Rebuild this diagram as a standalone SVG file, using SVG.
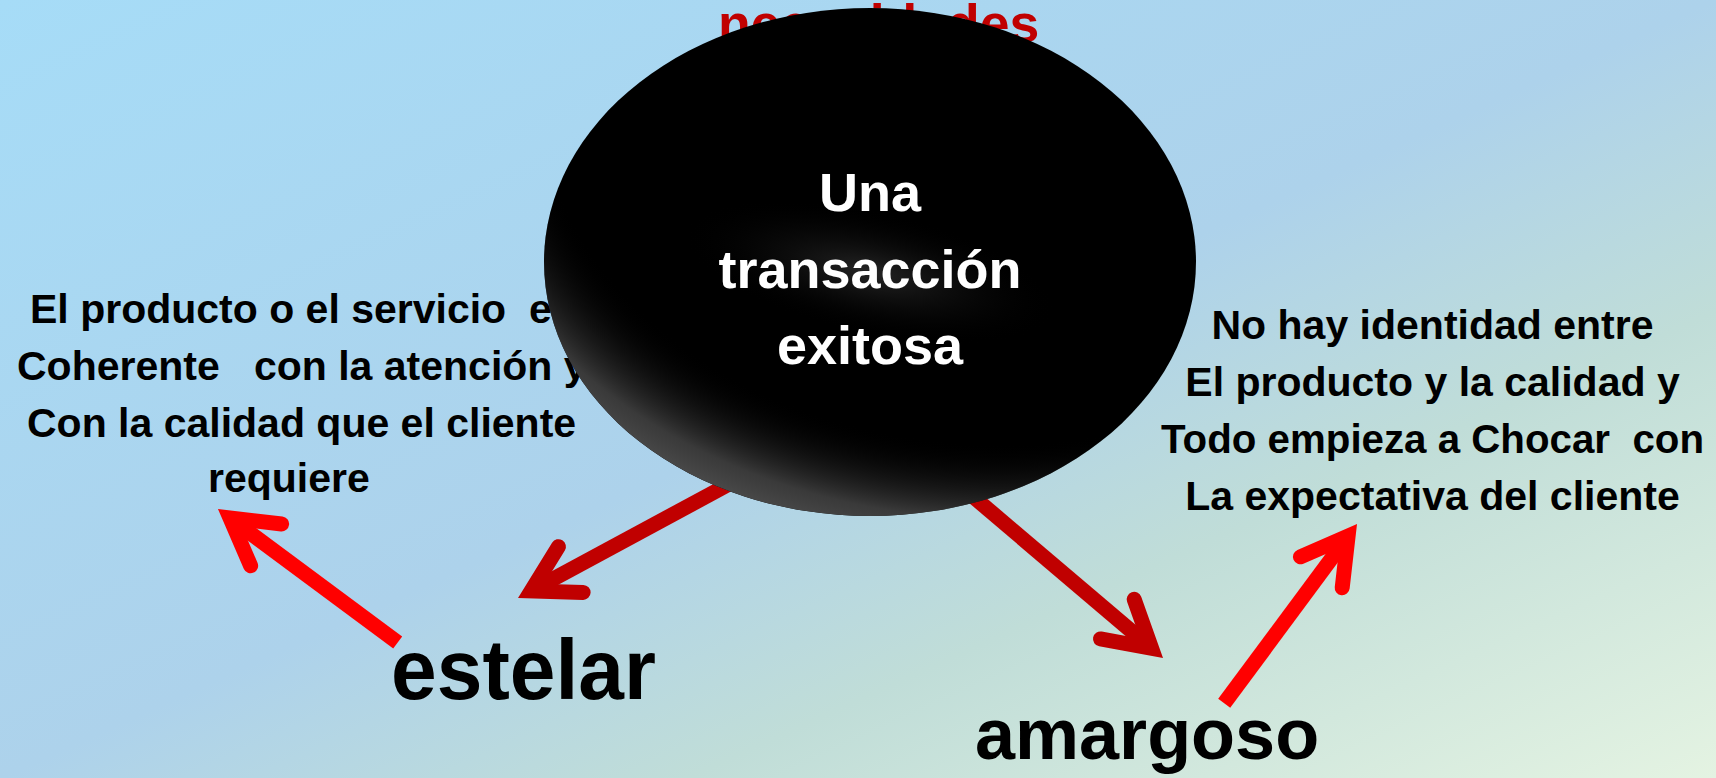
<svg xmlns="http://www.w3.org/2000/svg" width="1716" height="778" viewBox="0 0 1716 778">
  <style>
    .t { font-family: "Liberation Sans", Arial, sans-serif; font-weight: bold; white-space: pre; }
    .body { font-size: 41px; fill: #000000; }
    .inner { font-size: 54px; fill: #ffffff; text-anchor: middle; }
    .big { fill: #000000; }
    .dark { stroke: #C00000; stroke-width: 15; fill: none; stroke-linecap: butt; }
    .bright { stroke: #FF0000; stroke-width: 15; fill: none; stroke-linecap: butt; }
  </style>
  <defs>
    <linearGradient id="bg" x1="0" y1="0" x2="1" y2="1">
      <stop offset="0" stop-color="#A6DCF7"/>
      <stop offset="0.5" stop-color="#ADD2EB"/>
      <stop offset="0.7" stop-color="#C0DDD8"/>
      <stop offset="1" stop-color="#E4F3E2"/>
    </linearGradient>
    <radialGradient id="rim" cx="0.7" cy="0.15" r="0.93" fx="0.7" fy="0.15">
      <stop offset="0" stop-color="#000000" stop-opacity="0"/>
      <stop offset="0.76" stop-color="#000000" stop-opacity="0"/>
      <stop offset="0.92" stop-color="#444444" stop-opacity="0.85"/>
      <stop offset="0.97" stop-color="#484848" stop-opacity="1"/>
      <stop offset="1" stop-color="#303030" stop-opacity="1"/>
    </radialGradient>
    <radialGradient id="glow" cx="0.5" cy="0.5" r="0.5">
      <stop offset="0" stop-color="#444444" stop-opacity="1"/>
      <stop offset="1" stop-color="#000000" stop-opacity="0"/>
    </radialGradient>
    <clipPath id="ellClip">
      <ellipse cx="870" cy="262" rx="326" ry="254"/>
    </clipPath>
    <marker id="headDark" markerUnits="userSpaceOnUse" orient="auto" viewBox="-60 -40 80 80" markerWidth="80" markerHeight="80" refX="0" refY="0">
      <path d="M-45,-26 L0,0 L-45,26" fill="none" stroke="#C00000" stroke-width="15" stroke-linecap="round" stroke-linejoin="miter"/>
    </marker>
    <marker id="headBright" markerUnits="userSpaceOnUse" orient="auto" viewBox="-60 -40 80 80" markerWidth="80" markerHeight="80" refX="0" refY="0">
      <path d="M-45,-26 L0,0 L-45,26" fill="none" stroke="#FF0000" stroke-width="15" stroke-linecap="round" stroke-linejoin="miter"/>
    </marker>
  </defs>

  <rect id="background" x="0" y="0" width="1716" height="778" fill="url(#bg)"/>

  <g id="title-necesidades">
    <text class="t" x="718" y="42" font-size="53.5" fill="#C00000">necesidades</text>
  </g>

  <g id="node-left-text" class="t body">
    <text class="t body" x="30" y="323" xml:space="preserve">El producto o el servicio  es</text>
    <text class="t body" x="17" y="380" xml:space="preserve">Coherente   con la atención y</text>
    <text class="t body" x="27" y="437">Con la calidad que el cliente</text>
    <text class="t body" x="208" y="492">requiere</text>
  </g>

  <g id="node-right-text" class="t body" text-anchor="middle">
    <text class="t body" x="1432.5" y="339">No hay identidad entre</text>
    <text class="t body" x="1432.5" y="396">El producto y la calidad y</text>
    <text class="t body" x="1432.5" y="453" xml:space="preserve" textLength="543" lengthAdjust="spacingAndGlyphs">Todo empieza a Chocar  con</text>
    <text class="t body" x="1432.5" y="510">La expectativa del cliente</text>
  </g>

  <g id="connectors">
    <path class="dark" d="M746.8,474.5 L531.2,590.9" marker-end="url(#headDark)"/>
    <path class="bright" d="M397.7,642.5 L230,518" marker-end="url(#headBright)"/>
    <path class="dark" d="M949.6,476.6 L1151.6,648.3" marker-end="url(#headDark)"/>
    <path class="bright" d="M1224.2,703.3 L1348.1,536.1" marker-end="url(#headBright)"/>
  </g>

  <g id="node-transaccion">
    <ellipse cx="870" cy="262" rx="326" ry="254" fill="#000000"/>
    <ellipse cx="870" cy="262" rx="326" ry="254" fill="url(#rim)"/>
    <g clip-path="url(#ellClip)">
      <ellipse cx="870" cy="272" rx="190" ry="62" fill="url(#glow)" opacity="0.55" transform="rotate(12 870 272)"/>
    </g>
    <text class="t inner" x="870" y="211">Una</text>
    <text class="t inner" x="870" y="288">transacción</text>
    <text class="t inner" x="870" y="364">exitosa</text>
  </g>

  <g id="node-estelar">
    <text class="t big" x="391" y="699" font-size="86" textLength="265" lengthAdjust="spacingAndGlyphs">estelar</text>
  </g>

  <g id="node-amargoso">
    <text class="t big" x="975" y="759" font-size="72">amargoso</text>
  </g>
</svg>
